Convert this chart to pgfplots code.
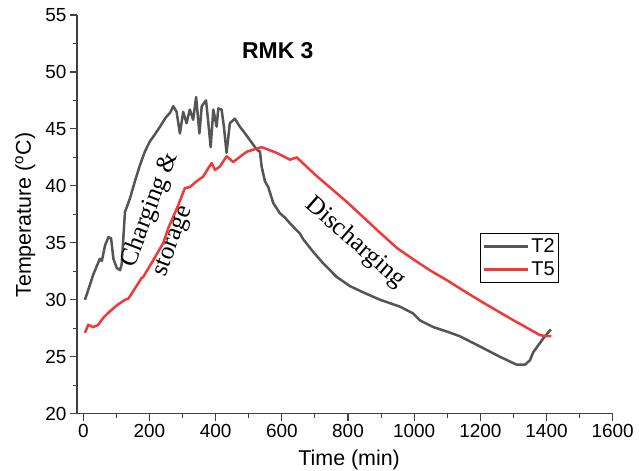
\documentclass[border=0pt]{standalone}
\usepackage{pgfplots}
\pgfplotsset{compat=1.18}
\usepackage{fontspec}
\setmainfont{Liberation Sans}
\newfontfamily\seriffont{Liberation Serif}
\definecolor{tgray}{RGB}{85,85,85}
\definecolor{tred}{RGB}{238,58,58}
\definecolor{axgray}{RGB}{64,64,64}
\begin{document}
\begin{tikzpicture}
\path[use as bounding box] (-77bp,-57.3bp) rectangle (562bp,413.7bp);
\begin{axis}[
 at={(0,0)}, anchor=south west,
 scale only axis, width=535.7bp, height=398.7bp,
 xmin=-19, xmax=1600, ymin=20, ymax=55,
 axis x line*=bottom, axis y line*=left,
 axis line style={-, draw=axgray, line width=1.1bp},
 xtick={0,200,...,1600}, ytick={20,25,...,55},
 minor x tick num=1, minor y tick num=1,
 tick align=outside,
 major tick length=7bp, minor tick length=4bp,
 every tick/.style={draw=axgray, line width=1.1bp},
 /pgf/number format/assume math mode=true,
 /pgf/number format/1000 sep={},
 tick label style={font=\fontsize{19}{22}\selectfont, black},
 xlabel={Time (min)}, ylabel={Temperature (\textsuperscript{o}C)},
 xlabel style={font=\fontsize{21.5}{25}\selectfont, at={(axis description cs:0.508,-0.1287)}, anchor=base},
 ylabel style={font=\fontsize{21.5}{25}\selectfont, at={(axis description cs:-0.0859,0.498)}, anchor=base},
 legend style={at={(axis description cs:0.752,0.453)}, anchor=north west, draw=black, line width=0.8bp,
   font=\fontsize{20}{22}\selectfont, inner xsep=2bp, inner ysep=3bp, row sep=4bp, cells={anchor=west}},
 legend image code/.code={\draw[#1, line width=3.2bp] (0bp,0bp) -- (44bp,0bp);},
]
\addplot[tgray, line width=2.5bp, line join=round] coordinates {
(5,30.0) (20,31.3) (30,32.2) (40,32.9) (50,33.6) (56,33.4) (66,34.8) (76,35.5) (84,35.4)
(91,33.6) (101,32.8) (111,32.6) (116,33.1) (126,37.7) (141,38.9) (156,40.4) (171,41.8)
(186,43.0) (201,43.9) (216,44.5) (232,45.2) (247,45.9) (252,46.1) (262,46.4) (272,47.0)
(282,46.5) (292,44.6) (302,46.5) (312,45.5) (322,46.7) (332,45.8) (341,47.8) (351,44.6)
(358,47.0) (371,47.5) (378,45.5) (385,43.4) (393,46.7) (403,45.2) (408,46.8) (418,46.7)
(425,45.2) (433,42.9) (443,45.5) (458,45.9) (473,45.2) (489,44.6) (504,44.0) (524,43.2)
(534,43.0) (539,41.7) (549,40.4) (559,39.9) (574,38.5) (594,37.6) (610,37.2) (625,36.7)
(655,35.8) (665,35.3) (695,34.2) (725,33.2) (766,32.0) (806,31.2) (850,30.6) (897,30.0)
(957,29.4) (997,28.8) (1017,28.2) (1058,27.6) (1100,27.2) (1138,26.8) (1199,25.9)
(1259,25.0) (1310,24.3) (1335,24.3) (1350,24.7) (1360,25.4) (1375,26.0) (1390,26.6) (1413,27.4)
};
\addlegendentry{T2}
\addplot[tred, line width=2.5bp, line join=round] coordinates {
(5,27.1) (15,27.8) (30,27.6) (45,27.8) (60,28.4) (81,29.0) (101,29.5) (126,30.0) (136,30.1)
(141,30.3) (176,31.9) (181,32.0) (214,33.6) (242,35.0) (257,36.3) (287,38.3) (307,39.8)
(322,39.9) (347,40.5) (362,40.8) (383,41.8) (388,42.0) (398,41.4) (413,41.7) (433,42.6)
(453,42.1) (494,43.0) (539,43.4) (584,42.9) (625,42.3) (645,42.5) (700,41.0) (800,38.5)
(900,35.8) (950,34.5) (1000,33.5) (1047,32.6) (1100,31.7) (1138,31.0) (1200,29.9)
(1229,29.4) (1300,28.2) (1319,27.9) (1380,26.9) (1400,26.8) (1415,26.8)
};
\addlegendentry{T5}
\node[font=\bfseries\fontsize{23}{27}\selectfont] at (axis cs:588,51.9) {RMK 3};
\node[font=\seriffont\fontsize{25.5}{30}\selectfont, rotate=69] at (axis cs:202,37.9) {Charging \&};
\node[font=\seriffont\fontsize{25.5}{30}\selectfont, rotate=69] at (axis cs:275,35.1) {storage};
\node[font=\seriffont\fontsize{25.5}{30}\selectfont, rotate=-41] at (axis cs:821,35.0) {Discharging};
\end{axis}
\end{tikzpicture}
\end{document}
